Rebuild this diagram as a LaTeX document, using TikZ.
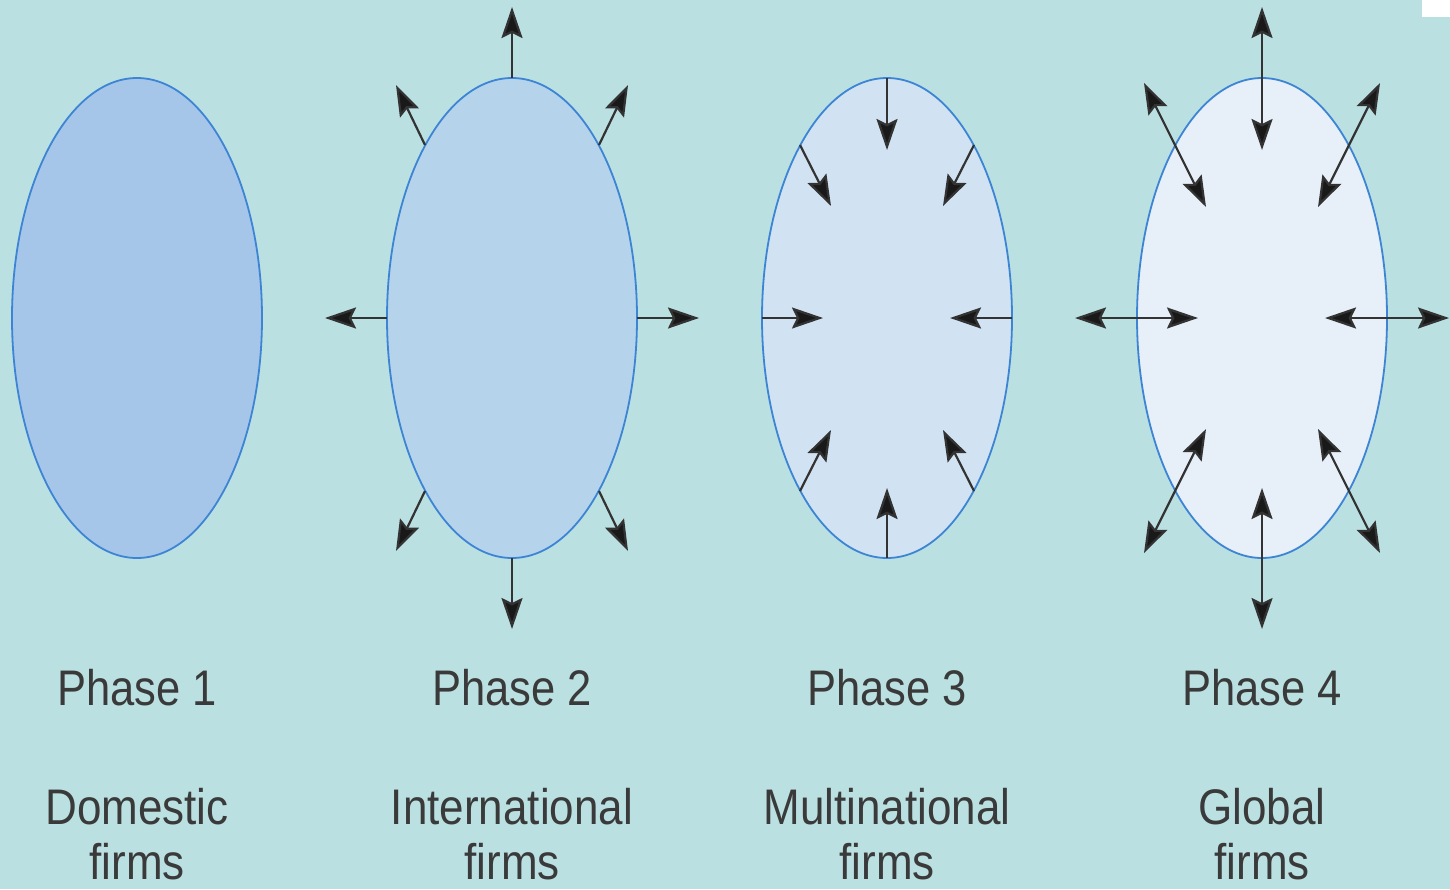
\documentclass[tikz,border=0pt]{standalone}
\usepackage{fontspec}
\usepackage{graphicx}
\setmainfont{Liberation Sans}
\usetikzlibrary{shapes.geometric,arrows.meta,calc}
\definecolor{bg}{HTML}{BAE0E2}
\definecolor{fa}{HTML}{A6C6E9}
\definecolor{fb}{HTML}{B6D3EC}
\definecolor{fc}{HTML}{D1E3F3}
\definecolor{fd}{HTML}{E7EFF8}
\definecolor{rim}{HTML}{3D85D4}
\definecolor{ink}{HTML}{3A3A3A}
\definecolor{shaft}{HTML}{333333}
\begin{document}
\begin{tikzpicture}[x=1pt,y=-1pt,
  phase/.style={ellipse, draw=rim, line width=1.8pt, minimum width=250pt, minimum height=480pt, inner sep=0pt, outer sep=0pt},
  arr/.style={draw=shaft, line width=2.2pt, -{Stealth[length=31pt,width=21pt,inset=5pt,fill=black!90]}},
  darr/.style={draw=shaft, line width=2.2pt, {Stealth[length=31pt,width=21pt,inset=5pt,fill=black!90]}-{Stealth[length=31pt,width=21pt,inset=5pt,fill=black!90]}},
  lbl/.style={font=\fontsize{50}{56}\selectfont, text=ink, anchor=base, inner sep=0pt, text depth=0pt}
]
\fill[bg] (0,0) rectangle (1450,889);
\useasboundingbox (0,0) rectangle (1450,889);
\fill[white] (1422,0) rectangle (1450,17);

\foreach \i/\cx/\col in {1/137/fa,2/512/fb,3/887/fc,4/1262/fd} {
  \node[phase, fill=\col] (e\i) at (\cx,318) {};
  \coordinate (e\i-ul) at ($(e\i.center)+(-87,-173)$);
  \coordinate (e\i-ur) at ($(e\i.center)+(87,-173)$);
  \coordinate (e\i-ll) at ($(e\i.center)+(-87,173)$);
  \coordinate (e\i-lr) at ($(e\i.center)+(87,173)$);
}

% Phase 2: outward arrows
\coordinate (o2n) at ($(e2.north)+(0,-71)$);
\coordinate (o2s) at ($(e2.south)+(0,71)$);
\coordinate (o2w) at ($(e2.west)+(-62,0)$);
\coordinate (o2e) at ($(e2.east)+(62,0)$);
\coordinate (o2ul) at ($(e2-ul)+(-29,-60)$);
\coordinate (o2ur) at ($(e2-ur)+(29,-60)$);
\coordinate (o2ll) at ($(e2-ll)+(-29,60)$);
\coordinate (o2lr) at ($(e2-lr)+(29,60)$);
\draw[arr] (e2.north) -- (o2n);
\draw[arr] (e2.south) -- (o2s);
\draw[arr] (e2.west) -- (o2w);
\draw[arr] (e2.east) -- (o2e);
\draw[arr] (e2-ul) -- (o2ul);
\draw[arr] (e2-ur) -- (o2ur);
\draw[arr] (e2-ll) -- (o2ll);
\draw[arr] (e2-lr) -- (o2lr);

% Phase 3: inward arrows
\coordinate (i3n) at ($(e3.north)+(0,72)$);
\coordinate (i3s) at ($(e3.south)+(0,-70)$);
\coordinate (i3w) at ($(e3.west)+(61,0)$);
\coordinate (i3e) at ($(e3.east)+(-62,0)$);
\coordinate (i3ul) at ($(e3-ul)+(31,61)$);
\coordinate (i3ur) at ($(e3-ur)+(-31,61)$);
\coordinate (i3ll) at ($(e3-ll)+(31,-61)$);
\coordinate (i3lr) at ($(e3-lr)+(-31,-61)$);
\draw[arr] (e3.north) -- (i3n);
\draw[arr] (e3.south) -- (i3s);
\draw[arr] (e3.west) -- (i3w);
\draw[arr] (e3.east) -- (i3e);
\draw[arr] (e3-ul) -- (i3ul);
\draw[arr] (e3-ur) -- (i3ur);
\draw[arr] (e3-ll) -- (i3ll);
\draw[arr] (e3-lr) -- (i3lr);

% Phase 4: two-way arrows
\coordinate (a4n) at ($(e4.north)+(0,-71)$);
\coordinate (b4n) at ($(e4.north)+(0,72)$);
\coordinate (a4s) at ($(e4.south)+(0,71)$);
\coordinate (b4s) at ($(e4.south)+(0,-70)$);
\coordinate (a4w) at ($(e4.west)+(-62,0)$);
\coordinate (b4w) at ($(e4.west)+(61,0)$);
\coordinate (a4e) at ($(e4.east)+(62,0)$);
\coordinate (b4e) at ($(e4.east)+(-62,0)$);
\coordinate (a4ul) at ($(e4-ul)+(-31,-62)$);
\coordinate (b4ul) at ($(e4-ul)+(31,62)$);
\coordinate (a4ur) at ($(e4-ur)+(31,-62)$);
\coordinate (b4ur) at ($(e4-ur)+(-31,62)$);
\coordinate (a4ll) at ($(e4-ll)+(-31,62)$);
\coordinate (b4ll) at ($(e4-ll)+(31,-62)$);
\coordinate (a4lr) at ($(e4-lr)+(31,62)$);
\coordinate (b4lr) at ($(e4-lr)+(-31,-62)$);
\draw[darr] (a4n) -- (b4n);
\draw[darr] (a4s) -- (b4s);
\draw[darr] (a4w) -- (b4w);
\draw[darr] (a4e) -- (b4e);
\draw[darr] (a4ul) -- (b4ul);
\draw[darr] (a4ur) -- (b4ur);
\draw[darr] (a4ll) -- (b4ll);
\draw[darr] (a4lr) -- (b4lr);

% Labels
\node[lbl] (p1) at (137,705) {\scalebox{0.87}[1]{Phase 1}};
\node[lbl] (p2) at (512,705) {\scalebox{0.87}[1]{Phase 2}};
\node[lbl] (p3) at (887,705) {\scalebox{0.87}[1]{Phase 3}};
\node[lbl] (p4) at (1262,705) {\scalebox{0.87}[1]{Phase 4}};
\node[lbl] (d1) at (137,824) {\scalebox{0.88}[1]{Domestic}};
\node[lbl] (d2) at (512,824) {\scalebox{0.88}[1]{International}};
\node[lbl] (d3) at (887,824) {\scalebox{0.88}[1]{Multinational}};
\node[lbl] (d4) at (1262,824) {\scalebox{0.88}[1]{Global}};
\node[lbl] (f1) at (137,879) {\scalebox{0.88}[1]{firms}};
\node[lbl] (f2) at (512,879) {\scalebox{0.88}[1]{firms}};
\node[lbl] (f3) at (887,879) {\scalebox{0.88}[1]{firms}};
\node[lbl] (f4) at (1262,879) {\scalebox{0.88}[1]{firms}};
\end{tikzpicture}
\end{document}
